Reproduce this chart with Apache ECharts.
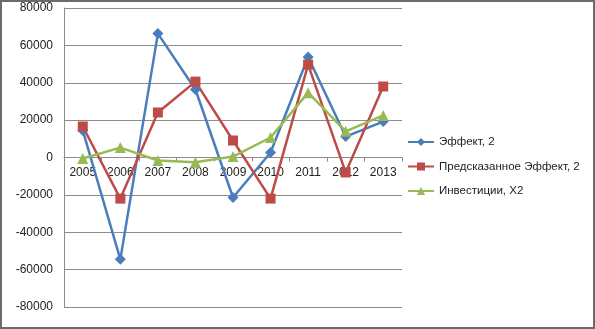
<!DOCTYPE html>
<html>
<head>
<meta charset="utf-8">
<script src="https://cdn.jsdelivr.net/npm/echarts@6/dist/echarts.min.js"></script>
<style>
  html, body { margin: 0; padding: 0; background: #fff; }
  #frame { position: absolute; left: 0; top: 0; width: 591px; height: 325px; border: 2px solid #6b6b6b; }
  #chart { position: absolute; left: 0; top: 0; width: 595px; height: 329px; }
</style>
</head>
<body>
<div id="frame"></div>
<div id="chart"></div>
<script>
// Годы наблюдений
const years = ['2005', '2006', '2007', '2008', '2009', '2010', '2011', '2012', '2013'];
// Фактический эффект
const effect = [14500, -54500, 66300, 36400, -21400, 2700, 53800, 11200, 19200];
// Предсказанный эффект
const predicted = [16600, -22000, 24100, 40600, 9100, -22000, 49700, -8000, 38000];
// Инвестиции
const invest = [-500, 5300, -1600, -2500, 500, 10700, 34700, 14000, 22500];
// Подписи вертикальной оси
const yTicks = { min: -80000, max: 80000, step: 20000 };

const font = '"Liberation Sans", "DejaVu Sans", sans-serif';
const gridTop = 8, gridBottom = 22, height = 329;
// category axis sits on the zero line, in the middle of the value range
const plotH = height - gridTop - gridBottom;
const zeroShift = -plotH * (0 - yTicks.min) / (yTicks.max - yTicks.min);

const chart = echarts.init(document.getElementById('chart'));

function line(name, data, color, symbol, size) {
  return {
    name, type: 'line', data, symbol, symbolSize: size,
    lineStyle: { color, width: 2.5 },
    itemStyle: { color },
    animation: false
  };
}

chart.setOption({
  animation: false,
  grid: { left: 64, right: 193, top: gridTop, bottom: gridBottom },
  legend: {
    orient: 'vertical', left: 407, top: 136, itemGap: 12.5, padding: 0,
    itemWidth: 26, itemHeight: 10,
    textStyle: { fontFamily: font, fontSize: 11.5, color: '#222' },
    data: ['Эффект, 2', 'Предсказанное Эффект, 2', 'Инвестиции, X2']
  },
  xAxis: {
    type: 'category', data: years, boundaryGap: true,
    offset: zeroShift,
    axisLine: { onZero: false, lineStyle: { color: '#8c8c8c', width: 1 } },
    axisTick: { show: true, length: 4, lineStyle: { color: '#8c8c8c' } },
    axisLabel: { fontFamily: font, fontSize: 12, color: '#222', margin: 9 }
  },
  yAxis: {
    type: 'value', min: yTicks.min, max: yTicks.max, interval: yTicks.step,
    axisLine: { show: true, lineStyle: { color: '#8c8c8c' } },
    axisTick: { show: false },
    splitLine: { lineStyle: { color: '#8c8c8c', width: 1 } },
    axisLabel: { fontFamily: font, fontSize: 12, color: '#222', margin: 11, formatter: v => String(v) }
  },
  series: [
    line('Эффект, 2', effect, '#4a7ebb', 'diamond', 11),
    line('Предсказанное Эффект, 2', predicted, '#be4b48', 'rect', 10),
    line('Инвестиции, X2', invest, '#98b954', 'triangle', 11)
  ]
});
</script>
</body>
</html>
